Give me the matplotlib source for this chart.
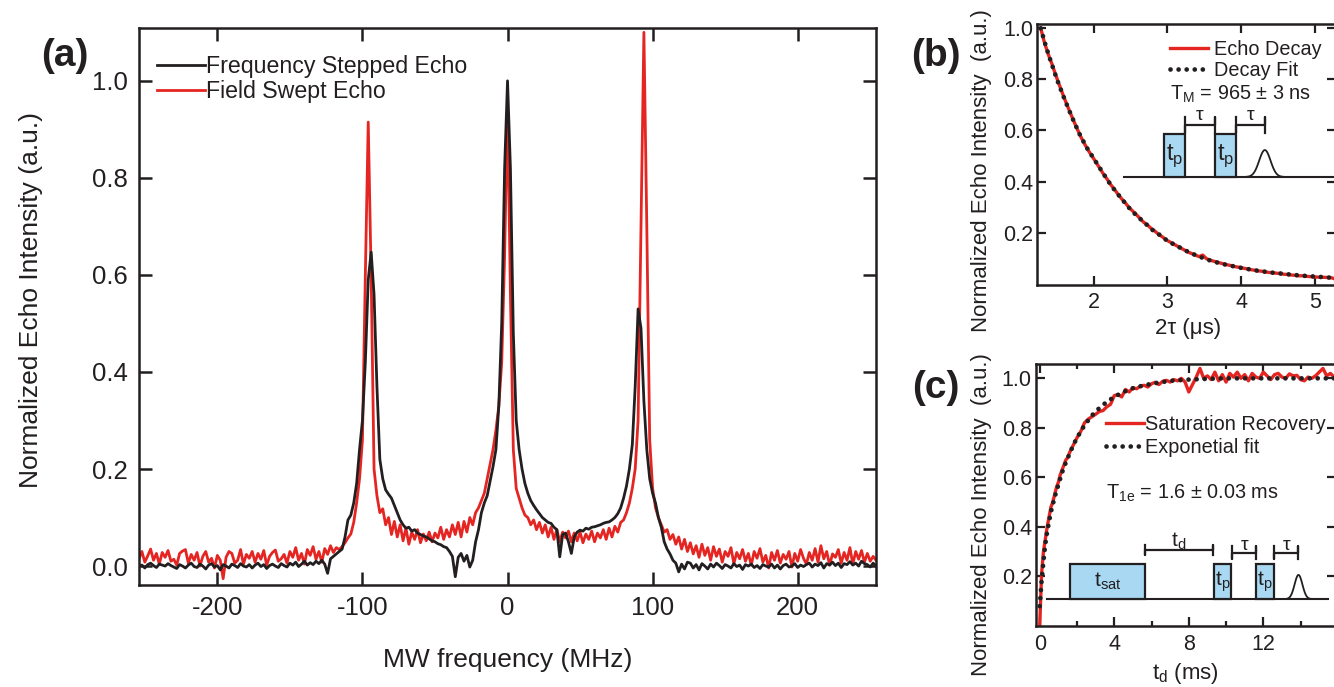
import matplotlib.pyplot as plt
import numpy as np
from matplotlib.lines import Line2D
from matplotlib.patches import Rectangle
from matplotlib.ticker import MultipleLocator, FormatStrFormatter

plt.rcParams['font.family'] = ['Liberation Sans', 'DejaVu Sans']
plt.rcParams['axes.unicode_minus'] = False
plt.rcParams['text.color'] = '#231F20'
plt.rcParams['axes.labelcolor'] = '#231F20'
plt.rcParams['xtick.color'] = '#231F20'
plt.rcParams['ytick.color'] = '#231F20'

INK = '#231F20'
RED = '#E52521'
BLUE = '#A9D9F2'

# (a) echo detected spectra, 2 MHz grid from -254 to 254 MHz
freq_start, freq_step = -254, 2
stepped_echo = [
    0.000, 0.002, -0.004, 0.003, 0.006, 0.001, -0.003, 0.004, 0.002, 0.000,
    0.005, 0.001, -0.002, -0.005, 0.003, 0.000, -0.004, 0.002, 0.006, -0.001,
    -0.003, 0.004, 0.000, -0.006, 0.002, 0.005, -0.002, 0.001, -0.008, 0.003,
    0.000, -0.004, 0.004, 0.001, -0.003, 0.005, 0.000, -0.002, 0.003, -0.004,
    0.002, 0.006, -0.001, 0.003, -0.005, 0.001, 0.004, 0.000, -0.003, 0.005,
    0.001, -0.002, 0.006, 0.002, 0.008, -0.001, 0.004, 0.010, 0.002, 0.007,
    0.003, 0.010, 0.005, 0.012, 0.004, -0.015, 0.015, 0.020, 0.025, 0.030,
    0.035, 0.060, 0.095, 0.105, 0.130, 0.170, 0.240, 0.300, 0.420, 0.590,
    0.647, 0.560, 0.370, 0.220, 0.180, 0.157, 0.148, 0.140, 0.125, 0.110,
    0.095, 0.085, 0.078, 0.080, 0.072, 0.075, 0.068, 0.065, 0.062, 0.060,
    0.056, 0.052, 0.050, 0.046, 0.044, 0.040, 0.038, 0.030, 0.020, -0.022,
    0.018, 0.026, 0.010, 0.022, -0.002, 0.012, 0.050, 0.075, 0.110, 0.130,
    0.145, 0.175, 0.205, 0.240, 0.330, 0.500, 0.820, 1.000, 0.820, 0.480,
    0.300, 0.240, 0.200, 0.170, 0.150, 0.135, 0.125, 0.116, 0.108, 0.100,
    0.095, 0.090, 0.088, 0.080, 0.075, 0.019, 0.065, 0.068, 0.050, 0.026,
    0.060, 0.070, 0.074, 0.072, 0.078, 0.076, 0.080, 0.081, 0.083, 0.085,
    0.088, 0.090, 0.091, 0.095, 0.100, 0.108, 0.120, 0.140, 0.165, 0.200,
    0.250, 0.370, 0.530, 0.490, 0.340, 0.240, 0.180, 0.150, 0.130, 0.100,
    0.080, 0.050, 0.035, 0.025, 0.012, 0.006, -0.012, 0.004, -0.006, 0.008,
    0.006, -0.004, 0.003, -0.008, 0.005, 0.000, -0.006, 0.004, -0.002, 0.006,
    0.001, -0.005, 0.003, 0.000, -0.004, 0.005, -0.001, 0.002, -0.007, 0.003,
    0.000, 0.004, -0.003, 0.001, -0.005, 0.003, 0.000, -0.002, 0.004, -0.004,
    0.002, -0.006, 0.001, 0.004, -0.002, 0.000, 0.005, -0.003, 0.002, -0.001,
    0.003, 0.006, -0.002, 0.004, 0.001, 0.007, -0.004, 0.005, 0.002, 0.008,
    0.001, 0.006, -0.003, 0.005, 0.003, 0.009, 0.002, 0.006, 0.000, 0.010,
    0.005, 0.003, -0.002, 0.006, 0.000,
]
swept_echo = [
    0.015, 0.030, 0.008, 0.021, 0.035, 0.012, 0.026, 0.004, 0.028, 0.018,
    0.032, 0.010, 0.014, 0.002, 0.026, 0.031, 0.034, 0.006, 0.024, 0.012,
    0.028, 0.000, 0.020, 0.030, 0.008, 0.016, -0.004, 0.022, 0.012, -0.026,
    0.018, 0.030, 0.026, 0.006, 0.012, 0.034, 0.004, 0.024, 0.016, 0.030,
    0.008, 0.026, 0.014, 0.032, 0.002, 0.020, 0.028, 0.033, 0.010, 0.015,
    0.024, 0.006, 0.030, 0.018, 0.038, 0.012, 0.026, 0.004, 0.034, 0.022,
    0.040, 0.014, 0.030, 0.008, 0.036, 0.024, 0.042, 0.028, 0.038, 0.034,
    0.040, 0.048, 0.058, 0.066, 0.090, 0.130, 0.180, 0.260, 0.600, 0.915,
    0.600, 0.200, 0.145, 0.110, 0.118, 0.085, 0.100, 0.065, 0.092, 0.060,
    0.085, 0.052, 0.078, 0.045, 0.070, 0.055, 0.075, 0.048, 0.066, 0.052,
    0.070, 0.050, 0.068, 0.058, 0.080, 0.055, 0.075, 0.060, 0.085, 0.065,
    0.090, 0.060, 0.092, 0.070, 0.100, 0.085, 0.110, 0.120, 0.135, 0.150,
    0.180, 0.210, 0.240, 0.280, 0.330, 0.420, 0.640, 0.950, 0.560, 0.240,
    0.160, 0.140, 0.120, 0.105, 0.100, 0.085, 0.095, 0.075, 0.090, 0.068,
    0.085, 0.060, 0.080, 0.055, 0.075, 0.050, 0.070, 0.058, 0.072, 0.050,
    0.068, 0.052, 0.070, 0.048, 0.066, 0.055, 0.072, 0.050, 0.068, 0.058,
    0.075, 0.055, 0.078, 0.060, 0.082, 0.070, 0.090, 0.095, 0.110, 0.130,
    0.160, 0.200, 0.300, 0.700, 1.100, 0.700, 0.260, 0.160, 0.120, 0.100,
    0.085, 0.070, 0.075, 0.055, 0.065, 0.045, 0.060, 0.035, 0.055, 0.030,
    0.048, 0.025, 0.042, 0.018, 0.045, 0.022, 0.038, 0.012, 0.040, 0.020,
    0.035, 0.008, 0.030, 0.020, 0.038, 0.005, 0.028, 0.015, 0.034, 0.010,
    0.026, 0.002, 0.030, 0.016, 0.036, 0.008, 0.022, -0.004, 0.028, 0.012,
    0.032, 0.006, 0.024, 0.014, 0.030, -0.002, 0.026, 0.010, 0.034, 0.016,
    0.004, 0.028, 0.012, 0.036, 0.008, 0.042, 0.015, 0.030, 0.002, 0.025,
    0.018, 0.034, 0.006, 0.028, 0.012, 0.038, 0.004, 0.030, 0.014, 0.032,
    0.008, 0.026, 0.010, 0.020, 0.012,
]

# (b) echo decay vs 2tau (us), data every 0.05 us from 1.28
decay_start, decay_step = 1.28, 0.05
echo_decay = [
    1.0, 0.945, 0.90, 0.862, 0.82, 0.78, 0.742, 0.705, 0.67, 0.636,
    0.603, 0.572, 0.545, 0.52, 0.498, 0.476, 0.453, 0.43, 0.41, 0.388,
    0.37, 0.35, 0.332, 0.316, 0.298, 0.284, 0.27, 0.255, 0.24, 0.23,
    0.216, 0.206, 0.193, 0.184, 0.172, 0.164, 0.156, 0.148, 0.14, 0.132,
    0.124, 0.118, 0.112, 0.106, 0.112, 0.098, 0.092, 0.088, 0.084, 0.08,
    0.076, 0.073, 0.07, 0.066, 0.064, 0.061, 0.058, 0.055, 0.053, 0.05,
    0.049, 0.046, 0.044, 0.043, 0.041, 0.04, 0.037, 0.036, 0.034, 0.033,
    0.031, 0.031, 0.029, 0.028, 0.027, 0.026, 0.025, 0.025, 0.024, 0.023,
    0.018, 0.022, 0.021,
]
fit_b_x = [1.28, 1.35, 1.4, 1.5, 1.6, 1.7, 1.8, 1.9, 2.0, 2.1, 2.2, 2.3, 2.4,
           2.5, 2.6, 2.7, 2.8, 2.9, 3.0, 3.1, 3.2, 3.3, 3.4, 3.5, 3.6, 3.7,
           3.8, 3.9, 4.0, 4.1, 4.2, 4.3, 4.4, 4.5, 4.6, 4.7, 4.8, 4.9, 5.0,
           5.1, 5.2, 5.3, 5.4]
fit_b_y = [1.0, 0.93, 0.885, 0.80, 0.725, 0.655, 0.59, 0.535, 0.49, 0.445,
           0.40, 0.36, 0.325, 0.29, 0.262, 0.236, 0.21, 0.19, 0.168, 0.152,
           0.137, 0.122, 0.11, 0.099, 0.089, 0.081, 0.074, 0.068, 0.062,
           0.057, 0.052, 0.048, 0.044, 0.041, 0.038, 0.035, 0.032, 0.03,
           0.028, 0.026, 0.024, 0.022, 0.021]

# (c) saturation recovery vs t_d (ms): 0.1 ms steps to 1.9, then 0.2 ms steps
recovery_early = [0.0, 0.21, 0.3, 0.35, 0.4, 0.44, 0.48, 0.5, 0.53, 0.56,
                  0.58, 0.61, 0.63, 0.65, 0.67, 0.68, 0.7, 0.715, 0.73, 0.745]
recovery_late = [
    0.76, 0.785, 0.82, 0.835, 0.845, 0.855, 0.866, 0.87, 0.885, 0.895,
    0.93, 0.935, 0.925, 0.955, 0.945, 0.962, 0.958, 0.968, 0.972, 0.965,
    0.978, 0.984, 0.975, 0.988, 0.992, 0.985, 0.995, 0.99, 1.0, 0.985,
    0.945, 0.975, 1.005, 1.04, 1.0, 1.01, 0.995, 1.025, 0.99, 1.015,
    0.985, 1.02, 1.005, 1.025, 1.0, 1.015, 0.99, 1.02, 1.005, 1.0,
    1.025, 1.01, 0.995, 1.015, 1.02, 1.005, 1.0, 1.018, 1.01, 1.012,
    0.995, 0.99, 1.005, 1.0, 1.01, 1.025, 1.04, 1.01, 1.02, 1.005,
    1.0, 1.005,
]
fit_c_x = [0, 0.1, 0.2, 0.3, 0.4, 0.5, 0.6, 0.8, 1.0, 1.2, 1.4, 1.6, 1.8, 2.0,
           2.4, 2.8, 3.2, 3.6, 4.0, 4.5, 5.0, 5.5, 6.0, 7.0, 8.0, 9.0, 10.0,
           12.0, 14.0, 16.0]
fit_c_y = [0.08, 0.18, 0.26, 0.33, 0.38, 0.42, 0.46, 0.52, 0.57, 0.62, 0.66,
           0.695, 0.73, 0.76, 0.81, 0.85, 0.88, 0.905, 0.925, 0.945, 0.96,
           0.97, 0.978, 0.99, 0.995, 0.998, 1.0, 1.0, 1.0, 1.0]

freq = freq_start + freq_step * np.arange(len(stepped_echo))
two_tau = decay_start + decay_step * np.arange(len(echo_decay))
t_d = np.concatenate([0.1 * np.arange(len(recovery_early)),
                      2.0 + 0.2 * np.arange(len(recovery_late))])
recovery = recovery_early + recovery_late

DOTS = dict(color=INK, lw=3.4, ls=(0, (0.01, 1.7)), dash_capstyle='round')


def pulse_box(ax, x0, x1, y0, y1, sub, size):
    ax.add_patch(Rectangle((x0, y0), x1 - x0, y1 - y0, transform=ax.transAxes,
                           facecolor=BLUE, edgecolor=INK, lw=1.6, zorder=4))
    ax.text((x0 + x1) / 2, (y0 + y1) / 2, r't$_\mathregular{%s}$' % sub,
            transform=ax.transAxes, ha='center', va='center', fontsize=size, zorder=5)


def bracket(ax, x0, x1, y, h, label, size, dy):
    ax.plot([x0, x0, x0, x1, x1, x1], [y + h, y - h, y, y, y + h, y - h],
            transform=ax.transAxes, color=INK, lw=1.6, zorder=4)
    ax.text((x0 + x1) / 2, y + dy, label, transform=ax.transAxes,
            ha='center', va='center', fontsize=size, zorder=5)


def echo(ax, xc, y0, h, w):
    s = np.linspace(-3.2, 3.2, 60)
    ax.plot(xc + w * s, y0 + h * np.exp(-s ** 2 / 2), transform=ax.transAxes,
            color=INK, lw=1.3, zorder=4)


def frame(ax, lw):
    for sp in ax.spines.values():
        sp.set_linewidth(lw)
        sp.set_color(INK)


fig = plt.figure(figsize=(13.34, 6.87), dpi=100)

# ---------- (a) ----------
ax = fig.add_axes([0.1042, 0.1485, 0.5525, 0.8108])
ax.plot(freq, swept_echo, color=RED, lw=2.0, zorder=2)
ax.plot(freq, stepped_echo, color=INK, lw=2.0, zorder=3)
ax.set_xlim(-254, 254)
ax.set_ylim(-0.039, 1.109)
ax.xaxis.set_major_locator(MultipleLocator(100))
ax.yaxis.set_major_locator(MultipleLocator(0.2))
ax.yaxis.set_major_formatter(FormatStrFormatter('%.1f'))
ax.tick_params(direction='in', length=9.5, width=1.8, top=True, right=True,
               labelsize=18.5, pad=8)
frame(ax, 1.8)
ax.set_xlabel('MW frequency (MHz)', fontsize=19)
ax.set_ylabel('Normalized Echo Intensity (a.u.)', fontsize=19)
ax.xaxis.set_label_coords(0.5, -0.135)
ax.xaxis.label.set_va('center')
ax.yaxis.set_label_coords(-0.146, 0.512)
ax.yaxis.label.set_va('center')
handles = [Line2D([], [], color=INK, lw=2.0), Line2D([], [], color=RED, lw=2.0)]
ax.legend(handles, ['Frequency Stepped Echo', 'Field Swept Echo'], loc='upper left',
          bbox_to_anchor=(0.0244, 0.952), frameon=False, fontsize=16.7,
          borderpad=0, borderaxespad=0, handlelength=2.05, handletextpad=0.08,
          labelspacing=0.1)

# ---------- (b) ----------
bx = fig.add_axes([0.7774, 0.5852, 0.2241, 0.3799])
bx.plot(two_tau, echo_decay, color=RED, lw=2.4, zorder=2)
bx.plot(fit_b_x, fit_b_y, zorder=3, **DOTS)
bx.set_xlim(1.23, 5.29)
bx.set_ylim(-0.005, 1.017)
bx.set_xticks([2, 3, 4, 5])
bx.set_yticks([0.2, 0.4, 0.6, 0.8, 1.0])
bx.yaxis.set_major_formatter(FormatStrFormatter('%.1f'))
bx.tick_params(direction='in', length=6.5, width=1.6, top=True, right=True,
               labelsize=15.5)
bx.tick_params(axis='y', pad=3)
bx.tick_params(axis='x', pad=5)
frame(bx, 1.8)
bx.set_xlabel('2τ (μs)', fontsize=16)
bx.set_ylabel('Normalized Echo Intensity  (a.u.)', fontsize=16)
bx.xaxis.set_label_coords(0.505, -0.165)
bx.xaxis.label.set_va('center')
bx.yaxis.set_label_coords(-0.185, 0.44)
bx.yaxis.label.set_va('center')
handles = [Line2D([], [], color=RED, lw=2.4), Line2D([], [], **DOTS)]
bx.legend(handles, ['Echo Decay', 'Decay Fit'], loc='upper left',
          bbox_to_anchor=(0.446, 0.939), frameon=False, fontsize=14.3,
          borderpad=0, borderaxespad=0, handlelength=1.9, handletextpad=0.3,
          labelspacing=0.1)
bx.text(0.446, 0.731, r'T$_\mathregular{M}$ = 965 ± 3 ns', transform=bx.transAxes,
        ha='left', va='center', fontsize=14.3)
# pulse sequence sketch
base_b = 0.414
bx.plot([0.29, 1.0], [base_b, base_b], transform=bx.transAxes, color=INK, lw=1.5, zorder=3)
pulse_box(bx, 0.426, 0.495, base_b, 0.579, 'p', 17)
pulse_box(bx, 0.594, 0.667, base_b, 0.579, 'p', 17)
bracket(bx, 0.495, 0.594, 0.613, 0.03, 'τ', 14, 0.035)
bracket(bx, 0.667, 0.762, 0.613, 0.03, 'τ', 14, 0.035)
echo(bx, 0.762, base_b, 0.103, 0.019)

# ---------- (c) ----------
cx = fig.add_axes([0.7766, 0.0888, 0.2249, 0.3814])
cx.plot(t_d, recovery, color=RED, lw=2.4, zorder=2)
cx.plot(fit_c_x, fit_c_y, zorder=3, **DOTS)
cx.set_xlim(-0.2, 15.9)
cx.set_ylim(0, 1.058)
cx.xaxis.set_major_locator(MultipleLocator(4))
cx.xaxis.set_minor_locator(MultipleLocator(2))
cx.set_yticks([0.2, 0.4, 0.6, 0.8, 1.0])
cx.yaxis.set_major_formatter(FormatStrFormatter('%.1f'))
cx.tick_params(which='both', direction='in', width=1.6, top=True, right=True,
               labelsize=15.5)
cx.tick_params(which='major', length=6.5)
cx.tick_params(which='minor', length=3.5)
cx.tick_params(axis='y', pad=3)
cx.tick_params(axis='x', pad=6)
frame(cx, 1.8)
cx.set_xlabel(r't$_\mathregular{d}$ (ms)', fontsize=16)
cx.set_ylabel('Normalized Echo Intensity  (a.u.)', fontsize=16)
cx.xaxis.set_label_coords(0.497, -0.18)
cx.xaxis.label.set_va('center')
cx.yaxis.set_label_coords(-0.181, 0.427)
cx.yaxis.label.set_va('center')
handles = [Line2D([], [], color=RED, lw=2.4), Line2D([], [], **DOTS)]
cx.legend(handles, ['Saturation Recovery', 'Exponetial fit'], loc='upper left',
          bbox_to_anchor=(0.234, 0.806), frameon=False, fontsize=14.3,
          borderpad=0, borderaxespad=0, handlelength=1.9, handletextpad=0.05,
          labelspacing=0.2)
cx.text(0.234, 0.507, r'T$_\mathregular{1e}$ = 1.6 ± 0.03 ms', transform=cx.transAxes,
        ha='left', va='center', fontsize=14.3)
base_c = 0.103
cx.plot([0.036, 0.974], [base_c, base_c], transform=cx.transAxes, color=INK, lw=1.5, zorder=3)
pulse_box(cx, 0.115, 0.362, base_c, 0.237, 'sat', 15)
pulse_box(cx, 0.592, 0.651, base_c, 0.237, 'p', 15)
pulse_box(cx, 0.734, 0.793, base_c, 0.237, 'p', 15)
bracket(cx, 0.362, 0.589, 0.29, 0.02, r't$_\mathregular{d}$', 15, 0.032)
bracket(cx, 0.655, 0.734, 0.279, 0.025, 'τ', 14, 0.028)
bracket(cx, 0.793, 0.875, 0.279, 0.025, 'τ', 14, 0.028)
echo(cx, 0.875, base_c, 0.092, 0.013)

# panel letters
fig.text(0.0487, 0.918, '(a)', fontsize=28, fontweight='bold', ha='center', va='center')
fig.text(0.7016, 0.918, '(b)', fontsize=28, fontweight='bold', ha='center', va='center')
fig.text(0.7016, 0.4347, '(c)', fontsize=28, fontweight='bold', ha='center', va='center')

fig.savefig('out.png', dpi=100)
